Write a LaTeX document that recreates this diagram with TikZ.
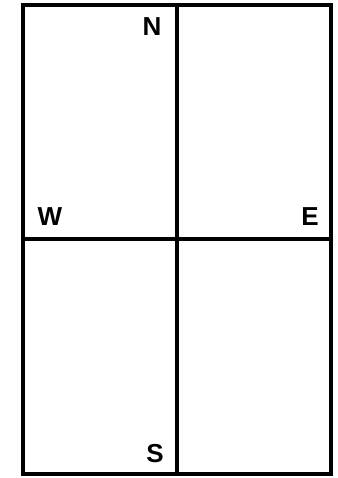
\documentclass[tikz,border=0pt]{standalone}
\usepackage{fontspec}
\setmainfont{Liberation Sans}
\begin{document}
\begin{tikzpicture}[x=1pt,y=-1pt,
  frame/.style={line width=4pt},
  lbl/.style={font=\fontsize{26}{26}\selectfont\bfseries, inner sep=0pt, anchor=center}]
\useasboundingbox[fill=white] (0,0) rectangle (337,478);
\coordinate (tl) at (23,5);
\coordinate (br) at (331,474);
\coordinate (tm) at (177,5);
\coordinate (bm) at (177,474);
\coordinate (ml) at (23,239);
\coordinate (mr) at (331,239);
\draw[frame] (tl) rectangle (br);
\draw[frame] (tm) -- (bm);
\draw[frame] (ml) -- (mr);
\node[lbl] (n) at (152,26.5) {N};
\node[lbl] (w) at (50,217) {W};
\node[lbl] (e) at (310,217) {E};
\node[lbl] (s) at (155,454) {S};
\end{tikzpicture}
\end{document}
